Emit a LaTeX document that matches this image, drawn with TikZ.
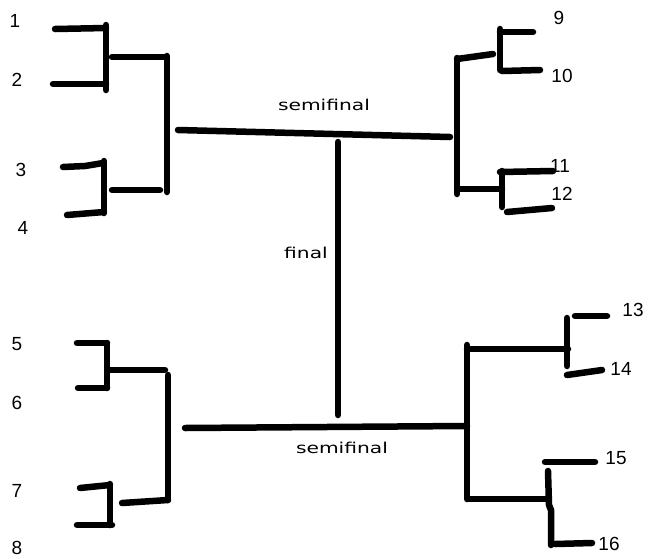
\documentclass[tikz,border=0pt]{standalone}
\usepackage{fontspec}
\setmainfont{Liberation Sans}
\newfontfamily\handfont{DejaVu Sans}
\begin{document}
\begin{tikzpicture}[x=1pt,y=-1pt,
  bar/.style={line width=6.5pt,line cap=round,line join=round,black},
  seed/.style={inner sep=0pt,font=\fontsize{19}{19}\selectfont},
  stage/.style={inner sep=0pt,font=\handfont\fontsize{15}{15}\selectfont}]
\fill[white] (0,0) rectangle (649,558);
\useasboundingbox (0,0) rectangle (649,558);
% ---- top-left quarter (1-4)
\draw[bar] (55,29) -- (106,28);
\draw[bar] (106,25) -- (106,90);
\draw[bar] (53,84) -- (106,84);
\draw[bar] (112,57) -- (165,57);
\draw[bar] (167,56) -- (167,192);
\draw[bar] (112,190) -- (160,190);
\draw[bar] (63,167) -- (85,166) -- (103,163);
\draw[bar] (104,161) -- (104,213);
\draw[bar] (67,215) -- (104,212);
% ---- top semifinal
\draw[bar] (178,130) -- (450,137);
% ---- top-right quarter (9-12)
\draw[bar] (457,58) -- (457,194);
\draw[bar] (457,59) -- (493,54);
\draw[bar] (500,29) -- (500,70);
\draw[bar] (500,32) -- (533,32);
\draw[bar] (502,71) -- (540,70);
\draw[bar] (458,189) -- (502,189);
\draw[bar] (502,171) -- (502,207);
\draw[bar] (500,172) -- (553,171);
\draw[bar] (507,212) -- (552,208);
% ---- final
\draw[bar] (338,142) -- (338,415);
% ---- bottom-left quarter (5-8)
\draw[bar] (77,343) -- (107,343);
\draw[bar] (107,343) -- (107,388);
\draw[bar] (78,388) -- (107,388);
\draw[bar] (110,370) -- (165,370);
\draw[bar] (168,375) -- (168,500);
\draw[bar] (122,503) -- (168,500);
\draw[bar] (80,488) -- (110,485);
\draw[bar] (110,484) -- (110,525);
\draw[bar] (77,525) -- (112,525);
% ---- bottom semifinal
\draw[bar] (185,428) -- (467,426);
% ---- bottom-right quarter (13-16)
\draw[bar] (467,345) -- (467,499);
\draw[bar] (467,349) -- (568,349);
\draw[bar] (567,318) -- (567,366);
\draw[bar] (575,316) -- (607,316);
\draw[bar] (567,375) -- (602,370);
\draw[bar] (468,499) -- (548,499);
\draw[bar] (548,471) -- (549,505) -- (551,510) -- (551,545);
\draw[bar] (545,462) -- (595,462);
\draw[bar] (555,544) -- (592,543);
% ---- labels
\node[seed] (s1) at (15,21) {1};
\node[seed] (s2) at (17,80) {2};
\node[seed] (s3) at (21,170) {3};
\node[seed] (s4) at (23,228) {4};
\node[seed] (s5) at (17,344) {5};
\node[seed] (s6) at (17,403) {6};
\node[seed] (s7) at (17,491) {7};
\node[seed] (s8) at (17,548) {8};
\node[seed] (s9) at (559,18) {9};
\node[seed] (s10) at (562,76) {10};
\node[seed] (s11) at (560,166) {11};
\node[seed] (s12) at (562,194) {12};
\node[seed] (s13) at (633,310) {13};
\node[seed] (s14) at (621,369) {14};
\node[seed] (s15) at (616,458) {15};
\node[seed] (s16) at (609,544) {16};
\node[stage] (semi1) at (324,105) {\scalebox{1.35}[1]{semifinal}};
\node[stage] (fin) at (306,253) {\scalebox{1.35}[1]{final}};
\node[stage] (semi2) at (342,448) {\scalebox{1.35}[1]{semifinal}};
\end{tikzpicture}
\end{document}
